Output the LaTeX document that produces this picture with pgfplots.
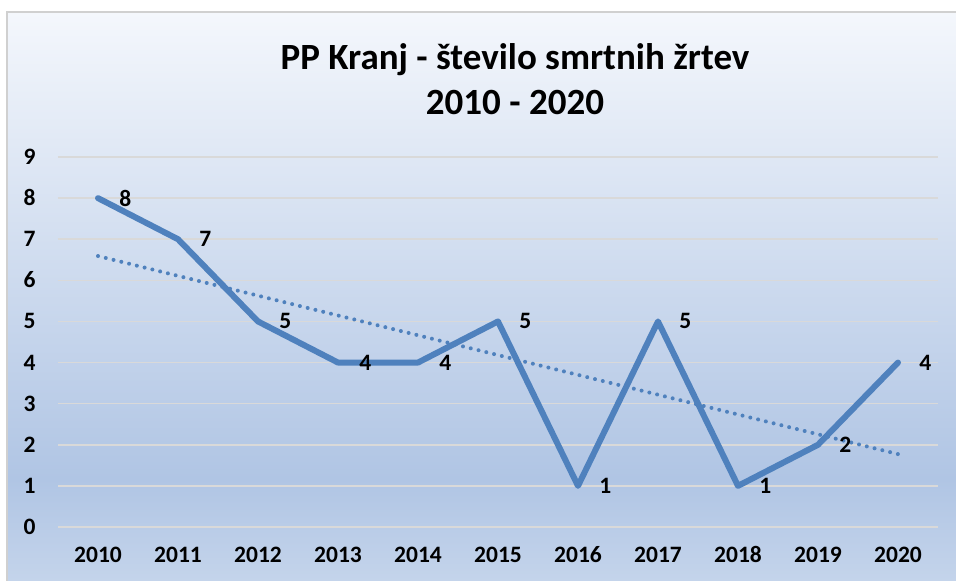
\documentclass[border=0pt]{standalone}
\usepackage{pgfplots}
\pgfplotsset{compat=1.18}
\usepackage{fontspec}
\setmainfont{Carlito}
\definecolor{serie}{HTML}{4F81BD}
\definecolor{gridc}{HTML}{D9D9D9}
\definecolor{bgtop}{HTML}{F4F7FC}
\definecolor{bgmid}{HTML}{B0C5E4}
\definecolor{bgbot}{HTML}{C4D4EB}
\definecolor{framec}{HTML}{D0D0D0}
\pgfdeclareverticalshading{chartbg}{100bp}{color(0bp)=(bgbot); color(25bp)=(bgbot); color(34bp)=(bgmid); color(75bp)=(bgtop); color(100bp)=(bgtop)}
\begin{document}
\begin{tikzpicture}[x=1pt,y=1pt]
\useasboundingbox (0,0) rectangle (956,581);
\fill[white] (0,0) rectangle (956,581);
\shade[shading=chartbg] (7,0) rectangle (956,569);
\draw[framec, line width=1.2pt] (7,0) -- (7,569) -- (956,569);
\node[font=\fontsize{37}{44}\selectfont\bfseries] at (515,521) {PP Kranj - število smrtnih žrtev};
\node[font=\fontsize{37}{44}\selectfont\bfseries] at (515,478) {2010 - 2020};
\begin{axis}[
  at={(58pt,54pt)}, anchor=south west,
  scale only axis, width=880pt, height=370pt,
  xmin=-0.5, xmax=10.5, ymin=0, ymax=9,
  axis line style={draw=none},
  major tick length=0pt,
  xtick={0,...,10},
  xticklabels={2010,2011,2012,2013,2014,2015,2016,2017,2018,2019,2020},
  ytick={0,...,9},
  ymajorgrids,
  grid style={gridc, line width=1.5pt},
  /pgf/number format/assume math mode=true,
  tick label style={font=\fontsize{23.5}{28}\selectfont\bfseries},
  yticklabel style={anchor=base east, xshift=-19pt, yshift=-7.5pt},
  xticklabel style={anchor=base, yshift=-35pt},
  clip=false,
]
\addplot[serie, line width=4pt, line cap=round, dash pattern=on 0pt off 8pt] coordinates {(0,6.591) (10,1.773)};
\addplot[serie, line width=6pt, line cap=round, line join=round,
  nodes near coords,
  every node near coord/.append style={anchor=west, xshift=15pt, text=black, font=\fontsize{23.5}{28}\selectfont\bfseries}
] coordinates {(0,8) (1,7) (2,5) (3,4) (4,4) (5,5) (6,1) (7,5) (8,1) (9,2) (10,4)};
\end{axis}
\end{tikzpicture}
\end{document}
